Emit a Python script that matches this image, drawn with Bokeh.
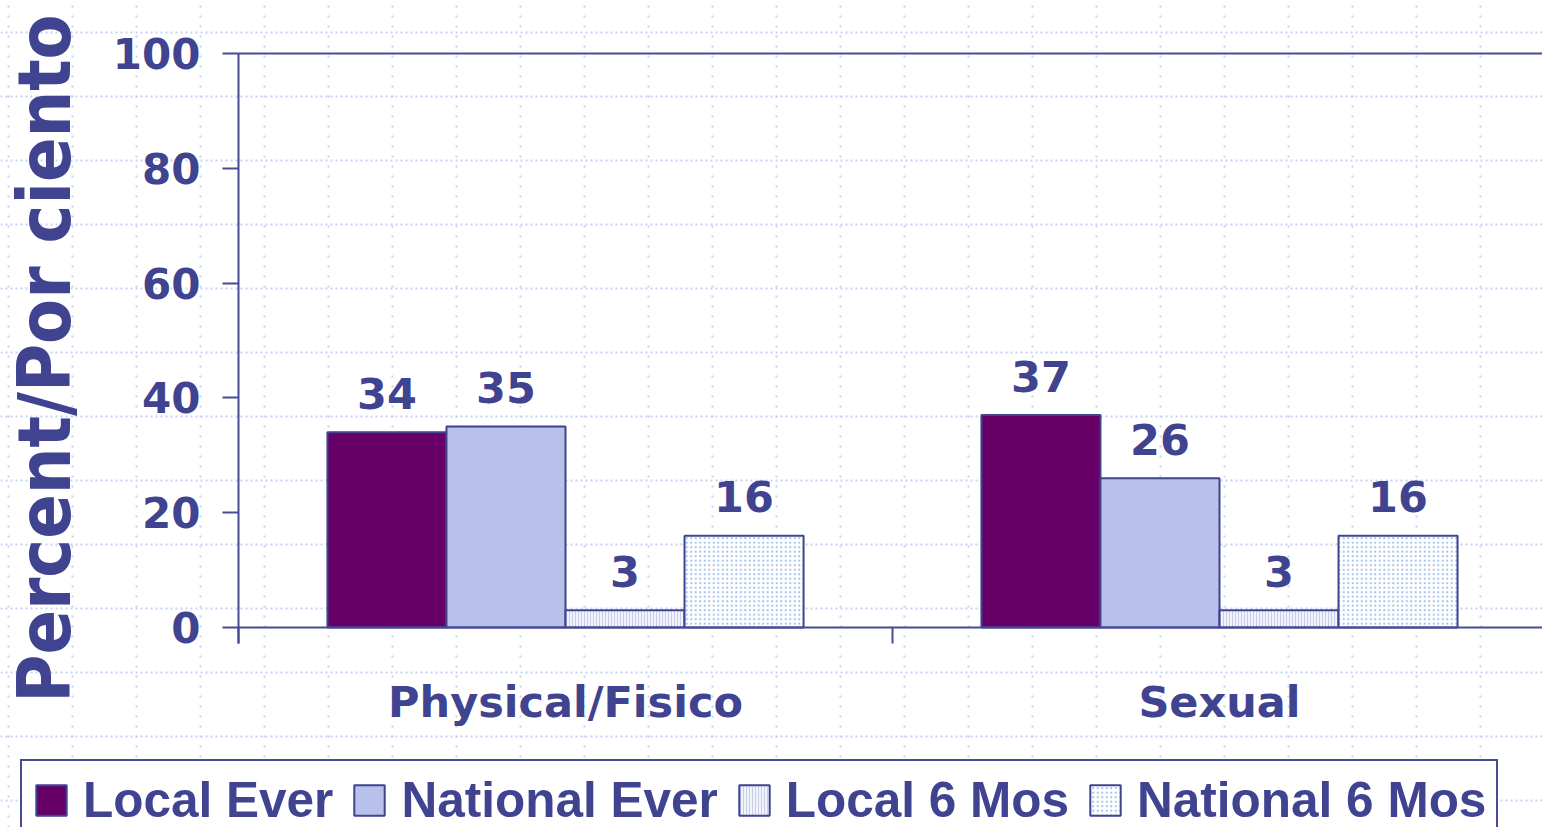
from bokeh.plotting import figure
from bokeh.models import (ColumnDataSource, Range1d, FixedTicker, Legend, LegendItem,
                          LinearAxis)
from bokeh.transform import dodge
from bokeh.core.properties import value
from bokeh.embed import file_html
from bokeh.resources import INLINE

# ---------------- data ----------------
categories = ["Physical/Fisico", "Sexual"]
series = ["Local Ever", "National Ever", "Local 6 Mos", "National 6 Mos"]
local_ever = [34, 37]
national_ever = [35, 26]
local_6mos = [3, 3]
national_6mos = [16, 16]
y_ticks = [0, 20, 40, 60, 80, 100]
y_label = "Percent/Por ciento"

# ---------------- style / layout ----------------
NAVY = "#3F4390"
LINE = "#474B92"
DOT = "#C4D2F6"
FONT = "DejaVu Sans"
W, H = 1542, 827
AX_X, AX_TOP, AX_BOT = 238, 53, 627      # pixel positions of axis corner
PX_PER_CAT = 654
PX_PER_Y = (AX_BOT - AX_TOP) / 100.0

x_start = -AX_X / PX_PER_CAT
x_end = (W - AX_X) / PX_PER_CAT
y_start = -(H - AX_BOT) / PX_PER_Y
y_end = 100 + AX_TOP / PX_PER_Y

p = figure(width=W, height=H,
           x_range=Range1d(x_start, x_end), y_range=Range1d(y_start, y_end),
           output_backend="svg", toolbar_location=None,
           min_border=0, outline_line_color=None,
           background_fill_color="white", border_fill_color="white")
xa = p.below[0]
ya = p.left[0]

cols = ["local_ever", "national_ever", "local_6mos", "national_6mos"]
data = dict(x=[i + 0.5 for i in range(len(categories))], cat=categories,
            local_ever=local_ever, national_ever=national_ever,
            local_6mos=local_6mos, national_6mos=national_6mos)
for c in cols:
    data[c + "_lbl"] = [str(v) for v in data[c]]
src = ColumnDataSource(data)

bar_w = 0.182
offsets = [-0.273, -0.091, 0.091, 0.273]
styles = [
    dict(fill_color="#660066"),
    dict(fill_color="#B8C1EA"),
    dict(fill_color="#F2F3FB", hatch_pattern="vertical_line", hatch_color="#C9CDEC",
         hatch_scale=3, hatch_weight=1),
    dict(fill_color="white", hatch_pattern="dot", hatch_color="#A3C1EC",
         hatch_scale=4.5, hatch_weight=1.2),
]

items = []
for name, c, off, st in zip(series, cols, offsets, styles):
    r = p.vbar(x=dodge("x", off, range=p.x_range), top=c, width=bar_w, bottom=0,
               source=src, line_color=NAVY, line_width=2, **st)
    items.append(LegendItem(label=name, renderers=[r]))
    p.text(x=dodge("x", off, range=p.x_range), y=c, text=c + "_lbl", source=src,
           text_align="center", text_baseline="alphabetic", y_offset=-39,
           text_font=value(FONT), text_font_style="bold", text_font_size="43px",
           text_color=NAVY)

# ---------------- axes (fixed at the data origin) ----------------
ya.fixed_location = 0
ya.bounds = (-2.8, 100)
ya.ticker = FixedTicker(ticks=y_ticks)
ya.axis_line_color = LINE
ya.axis_line_width = 2
ya.major_tick_line_color = LINE
ya.major_tick_line_width = 2
ya.major_tick_out = 16
ya.major_tick_in = 0
ya.minor_tick_line_color = None
ya.major_label_text_font = FONT
ya.major_label_text_font_size = "42px"
ya.major_label_text_font_style = "bold"
ya.major_label_text_color = NAVY
ya.major_label_standoff = 22

xa.fixed_location = 0
xa.bounds = (0, x_end)
xa.ticker = FixedTicker(ticks=[i + 0.5 for i in range(len(categories))],
                        minor_ticks=[float(i) for i in range(len(categories) + 1)])
xa.major_label_overrides = {i + 0.5: c for i, c in enumerate(categories)}
xa.axis_line_color = LINE
xa.axis_line_width = 2
xa.major_tick_line_color = None
xa.major_tick_out = 0
xa.major_tick_in = 0
xa.minor_tick_line_color = LINE
xa.minor_tick_line_width = 2
xa.minor_tick_out = 16
xa.minor_tick_in = 0
xa.major_label_text_font = FONT
xa.major_label_text_font_size = "43px"
xa.major_label_text_font_style = "bold"
xa.major_label_text_color = NAVY
xa.major_label_standoff = 33

# axis title carried by a line-less companion axis
title_axis = LinearAxis(fixed_location=0, bounds=(-6.3, 100), ticker=FixedTicker(ticks=[]),
                        axis_line_color=None, major_tick_line_color=None,
                        minor_tick_line_color=None, major_tick_out=0, minor_tick_out=0,
                        axis_label=y_label, axis_label_standoff=152,
                        axis_label_text_font="DejaVu Sans Condensed",
                        axis_label_text_font_size="73px",
                        axis_label_text_font_style="bold",
                        axis_label_text_color=NAVY)
p.add_layout(title_axis, "left")

# top border line at 100
top_axis = LinearAxis(fixed_location=100, bounds=(0, x_end), ticker=FixedTicker(ticks=[]),
                      axis_line_color=LINE, axis_line_width=2,
                      major_tick_line_color=None, minor_tick_line_color=None,
                      major_tick_out=0, minor_tick_out=0)
p.add_layout(top_axis, "above")

# ---------------- background dotted grid ----------------
xg_ticks = [(8 + 64 * k - AX_X) / PX_PER_CAT for k in range(0, 25)]
yg_ticks = [(AX_BOT - (32 + 64 * k)) / PX_PER_Y for k in range(0, 13)]
p.xgrid.ticker = FixedTicker(ticks=xg_ticks)
p.xgrid.grid_line_color = DOT
p.xgrid.grid_line_width = 2
p.xgrid.grid_line_dash = "2 8"
p.ygrid.ticker = FixedTicker(ticks=yg_ticks)
p.ygrid.grid_line_color = DOT
p.ygrid.grid_line_width = 2
p.ygrid.grid_line_dash = "2 3"

# ---------------- legend ----------------
legend = Legend(items=items, orientation="horizontal", location=(20, -13),
                label_text_font="Liberation Sans", label_text_font_size="49.5px",
                label_text_font_style="bold", label_text_color=NAVY,
                glyph_width=38, glyph_height=38, label_standoff=13, spacing=17,
                padding=10, margin=0, border_line_color=LINE, border_line_width=2,
                border_line_alpha=1.0,
                background_fill_color="white", background_fill_alpha=1.0)
p.add_layout(legend)

open("out.html", "w").write(file_html(p, INLINE))
